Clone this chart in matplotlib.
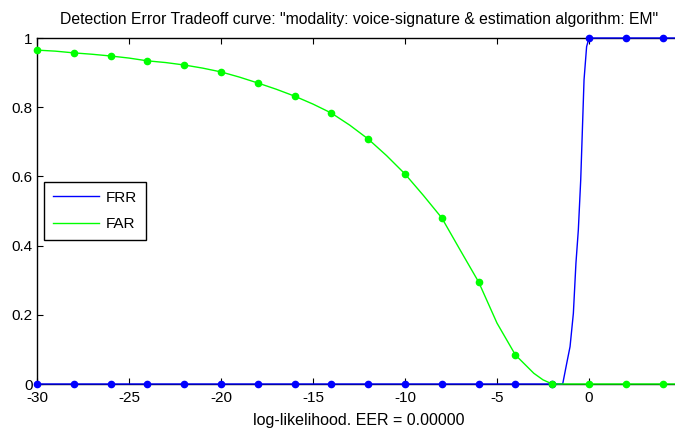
import matplotlib.pyplot as plt
import numpy as np

plt.rcParams['font.family'] = ['Liberation Sans', 'DejaVu Sans']

# threshold grid with the values
far_x = [-30, -29, -28, -27, -26, -25, -24, -23, -22, -21, -20, -19, -18, -17, -16,
         -15, -14, -13, -12, -11, -10, -9, -8, -7, -6, -5, -4, -3, -2.5, -2, 0, 2, 4, 5]
far_y = [0.965, 0.962, 0.957, 0.953, 0.948, 0.942, 0.934, 0.929, 0.922, 0.913, 0.902,
         0.887, 0.870, 0.852, 0.832, 0.809, 0.783, 0.748, 0.708, 0.660, 0.607, 0.545,
         0.480, 0.387, 0.295, 0.176, 0.084, 0.031, 0.012, 0.0, 0.0, 0.0, 0.0, 0.0]

frr_x = [-30, -28, -26, -24, -22, -20, -18, -16, -14, -12, -10, -8, -6, -4, -2,
         -1.43, -1.21, -1.03, -0.85, -0.71, -0.58, -0.45, -0.36, -0.27, -0.13, 0, 2, 4, 5]
frr_y = [0, 0, 0, 0, 0, 0, 0, 0, 0, 0, 0, 0, 0, 0, 0,
         0.0, 0.06, 0.108, 0.204, 0.349, 0.445, 0.59, 0.734, 0.879, 0.975, 1, 1, 1, 1]

# markers only every 2 units
marker_x = list(range(-30, 5, 2))

far_x = np.array(far_x)
far_y = np.array(far_y)
frr_x = np.array(frr_x)
frr_y = np.array(frr_y)
far_m = np.isin(far_x, marker_x)
frr_m = np.isin(frr_x, marker_x)

fig = plt.figure(figsize=(6.75, 4.37), dpi=100)
ax = fig.add_axes([37 / 675, 53 / 437, 644 / 675, 346 / 437])

ax.plot(frr_x, frr_y, color='#0000ff', lw=1, label='FRR', zorder=3, clip_on=False)
ax.plot(far_x, far_y, color='#00ff00', lw=1, label='FAR', zorder=3, clip_on=False)
ax.plot(frr_x[frr_m], frr_y[frr_m], 'o', color='#0000ff', ms=4.5, zorder=4, clip_on=False)
ax.plot(far_x[far_m], far_y[far_m], 'o', color='#00ff00', ms=4.5, zorder=4, clip_on=False)

ax.set_xlim(-30, 5)
ax.set_ylim(0, 1)
ax.set_xticks([-30, -25, -20, -15, -10, -5, 0])
ax.set_xticklabels(['-30', '-25', '-20', '-15', '-10', '-5', '0'])
ax.set_yticks([0, 0.2, 0.4, 0.6, 0.8, 1])
ax.set_yticklabels(['0', '0.2', '0.4', '0.6', '0.8', '1'])
ax.tick_params(direction='in', length=4, top=True, right=True, labelsize=11)
ax.tick_params(axis='x', pad=5)
ax.tick_params(axis='y', pad=3)
for s in ax.spines.values():
    s.set_linewidth(1)

ax.set_title('Detection Error Tradeoff curve: "modality: voice-signature & estimation algorithm: EM"',
             fontsize=11.3, pad=10)
ax.set_xlabel('log-likelihood. EER = 0.00000', fontsize=11.5, labelpad=6)

leg = ax.legend(loc='lower left', bbox_to_anchor=(0.011, 0.416), borderaxespad=0,
                fancybox=False, edgecolor='black', fontsize=11, handlelength=3.0,
                handletextpad=0.45, labelspacing=0.8, borderpad=0.6, framealpha=1)
leg.get_frame().set_linewidth(1)

fig.savefig('out.png', dpi=100)
